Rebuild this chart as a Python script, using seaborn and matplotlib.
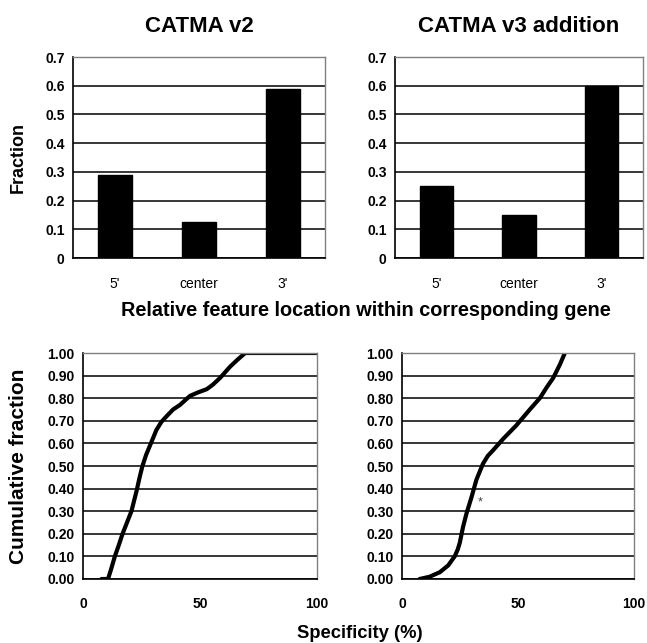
import numpy as np
import pandas as pd
import matplotlib
matplotlib.use('Agg')
import matplotlib.pyplot as plt
import seaborn as sns

# dados do gráfico
locais = ["5'", 'center', "3'"]
frac_v2 = [0.29, 0.125, 0.59]
frac_v3 = [0.25, 0.15, 0.60]

# curvas cumulativas (especificidade %, fração cumulativa)
spec_v2 = [7.9, 10.7, 12.2, 13.6, 15.3, 16.9, 18.8, 20.7, 22.9, 24.2, 25.4, 27.0,
           28.6, 31.4, 33.5, 35.7, 38.5, 41.4, 45.7, 49.0, 52.9, 55.5, 58.6, 62.9,
           66.0, 69.3, 100]
cum_v2 = [0.0, 0.0, 0.05, 0.10, 0.15, 0.20, 0.25, 0.30, 0.39, 0.45, 0.50, 0.55,
          0.59, 0.66, 0.695, 0.72, 0.75, 0.77, 0.81, 0.825, 0.84, 0.86, 0.89, 0.94,
          0.97, 1.0, 1.0]
spec_v3 = [7.6, 11.9, 16.3, 19.9, 22.7, 24.0, 24.9, 26.3, 27.8, 29.9, 32.1, 34.9,
           37.0, 39.3, 43.6, 49.3, 55.1, 59.4, 62.5, 65.2, 68.1, 70.2]
cum_v3 = [0.0, 0.01, 0.03, 0.06, 0.10, 0.13, 0.16, 0.23, 0.29, 0.36, 0.44, 0.51,
          0.545, 0.57, 0.62, 0.68, 0.75, 0.80, 0.85, 0.89, 0.95, 1.0]

sns.set_theme(style='white')
plt.rcParams['font.family'] = ['Liberation Sans', 'DejaVu Sans']
plt.rcParams['text.color'] = 'black'
plt.rcParams['axes.labelcolor'] = 'black'
plt.rcParams['xtick.color'] = 'black'
plt.rcParams['ytick.color'] = 'black'

W, H = 647, 643
fig = plt.figure(figsize=(W / 100, H / 100), dpi=100)


def px_axes(l, t, r, b):
    return fig.add_axes([l / W, 1 - b / H, (r - l) / W, (b - t) / H])


def estilo(ax):
    for s in ['top', 'right']:
        ax.spines[s].set_color('#808080')
        ax.spines[s].set_linewidth(1)
    for s in ['left', 'bottom']:
        ax.spines[s].set_color('black')
        ax.spines[s].set_linewidth(1.2)
    ax.yaxis.grid(True, color='black', linewidth=1.1)
    ax.set_axisbelow(True)
    ax.tick_params(axis='y', direction='out', length=4, width=1.2, color='black',
                   labelcolor='black', labelsize=10, pad=2)
    for lab in ax.get_yticklabels():
        lab.set_fontweight('bold')


ax1 = px_axes(73, 57, 325, 258)
ax2 = px_axes(395, 57, 643, 258)
for ax, vals, tit in [(ax1, frac_v2, 'CATMA v2'), (ax2, frac_v3, 'CATMA v3 addition')]:
    df = pd.DataFrame({'loc': locais, 'frac': vals})
    sns.barplot(data=df, x='loc', y='frac', color='black', width=0.4,
                edgecolor='black', saturation=1, ax=ax)
    ax.set_ylim(0, 0.7)
    ax.set_yticks(np.arange(0, 0.71, 0.1))
    ax.set_yticklabels(['0'] + ['%.1f' % v for v in np.arange(0.1, 0.71, 0.1)])
    ax.set_xlim(-0.5, 2.5)
    ax.set_xticks([0, 1, 2])
    ax.set_xticks([-0.5, 0.5, 1.5, 2.5], minor=True)
    ax.tick_params(axis='x', which='major', length=0, labelsize=10, pad=14,
                   labelcolor='black')
    ax.tick_params(axis='x', which='minor', direction='out', length=4, width=1.2,
                   color='black')
    ax.set_xlabel('')
    ax.set_ylabel('')
    ax.set_title(tit, fontsize=16, fontweight='bold', pad=18, color='black')
    estilo(ax)

ax1.set_ylabel('Fraction', fontsize=13, fontweight='bold', labelpad=13)
fig.text(366 / W, 1 - 310 / H, 'Relative feature location within corresponding gene',
         ha='center', va='center', fontsize=14.3, fontweight='bold')

ax3 = px_axes(83, 353, 317, 579)
ax4 = px_axes(402, 353, 634, 579)
for ax, xs, ys in [(ax3, spec_v2, cum_v2), (ax4, spec_v3, cum_v3)]:
    df = pd.DataFrame({'spec': xs, 'cum': ys})
    sns.lineplot(data=df, x='spec', y='cum', color='black', linewidth=3,
                 sort=False, estimator=None, ax=ax)
    ax.set_xlim(0, 100)
    ax.set_ylim(0, 1)
    ax.set_yticks(np.arange(0, 1.01, 0.1))
    ax.set_yticklabels(['%.2f' % v for v in np.arange(0, 1.01, 0.1)])
    ax.set_xticks([0, 50, 100])
    ax.tick_params(axis='x', direction='out', length=4, width=1.2, color='black',
                   labelcolor='black', labelsize=10, pad=9)
    ax.set_xlabel('')
    ax.set_ylabel('')
    estilo(ax)
    for lab in ax.get_xticklabels():
        lab.set_fontweight('bold')

ax4.text(33.5, 0.34, '*', fontsize=9, color='#444444', ha='center', va='center')
ax3.set_ylabel('Cumulative fraction', fontsize=15, fontweight='bold', labelpad=14)
fig.text(360 / W, 1 - 633 / H, 'Specificity (%)', ha='center', va='center',
         fontsize=13.2, fontweight='bold')

fig.savefig('out.png', dpi=100)
